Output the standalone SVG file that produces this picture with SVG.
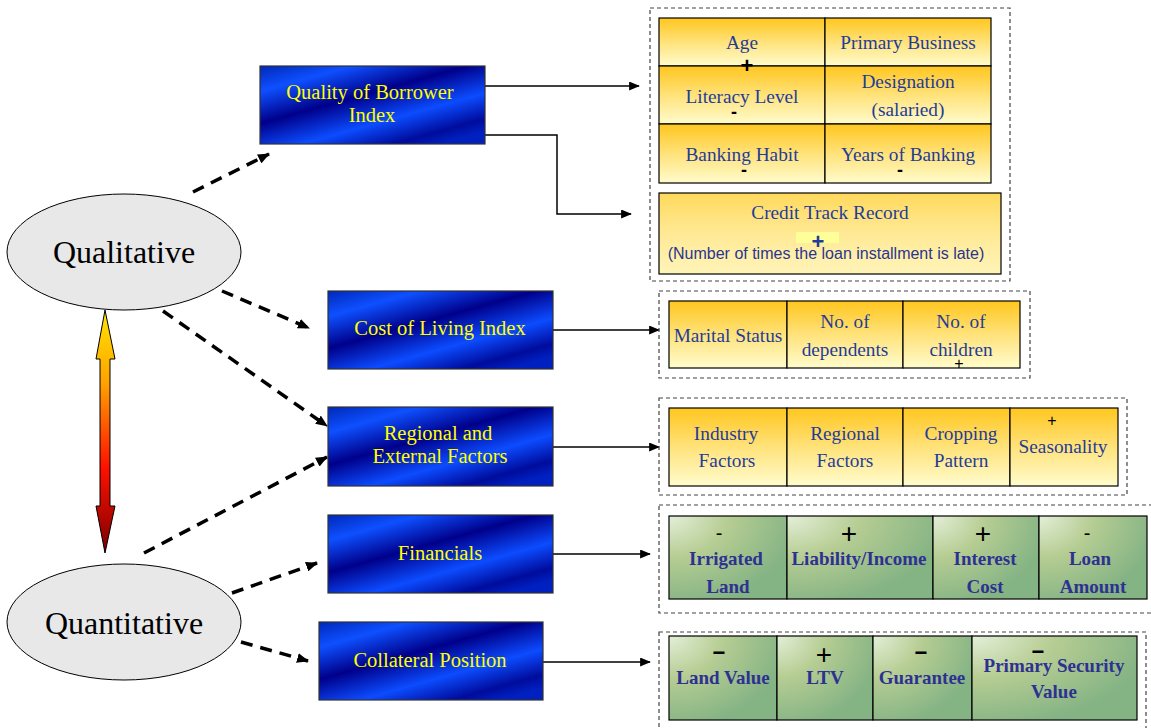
<svg xmlns="http://www.w3.org/2000/svg" width="1151" height="728" viewBox="0 0 1151 728">
<defs>
<linearGradient id="gBlue" x1="0" y1="0" x2="0.8" y2="1">
<stop offset="0" stop-color="#0028B8"/>
<stop offset="0.2" stop-color="#0E50FF"/>
<stop offset="0.45" stop-color="#00008A"/>
<stop offset="0.7" stop-color="#0C4CFF"/>
<stop offset="0.9" stop-color="#000C9C"/>
<stop offset="1" stop-color="#0020C0"/>
</linearGradient>
<linearGradient id="gYel" x1="0" y1="0" x2="0" y2="1">
<stop offset="0" stop-color="#FFC61E"/>
<stop offset="0.5" stop-color="#FFE27A"/>
<stop offset="1" stop-color="#FFFCCC"/>
</linearGradient>
<linearGradient id="gYel2" x1="0" y1="0" x2="0" y2="1">
<stop offset="0" stop-color="#FFD95C"/>
<stop offset="0.5" stop-color="#FFE995"/>
<stop offset="1" stop-color="#FFF4B8"/>
</linearGradient>
<radialGradient id="gGreen" cx="0" cy="0" r="1.1" fx="0" fy="0">
<stop offset="0" stop-color="#E4EFD9"/>
<stop offset="0.45" stop-color="#B6CD93"/>
<stop offset="1" stop-color="#84B384"/>
</radialGradient>
<linearGradient id="gArrow" x1="0" y1="0" x2="0" y2="1">
<stop offset="0" stop-color="#FFE600"/>
<stop offset="0.3" stop-color="#FFA200"/>
<stop offset="0.65" stop-color="#FF1000"/>
<stop offset="1" stop-color="#7A0000"/>
</linearGradient>
<marker id="mDash" viewBox="0 0 12 10" refX="11" refY="5" markerWidth="12" markerHeight="10" markerUnits="userSpaceOnUse" orient="auto">
<path d="M0,0 L12,5 L0,10 z" fill="#000"/>
</marker>
<marker id="mSolid" viewBox="0 0 12 10" refX="11" refY="5" markerWidth="11" markerHeight="9" markerUnits="userSpaceOnUse" orient="auto">
<path d="M0,0 L12,5 L0,10 z" fill="#000"/>
</marker>
<style>
.blue{fill:url(#gBlue);stroke:#333;stroke-width:1.2}
.btxt{font-family:"Liberation Serif",serif;font-size:20.5px;fill:#FFFF00;text-anchor:middle}
.ell{fill:#E8E8E8;stroke:#000;stroke-width:1}
.etxt{font-family:"Liberation Serif",serif;font-size:32px;fill:#000;text-anchor:middle}
.box{fill:none;stroke:#444;stroke-width:1.2;stroke-dasharray:4 3}
.yc{fill:url(#gYel);stroke:#000;stroke-width:1.2}
.yc2{fill:url(#gYel2);stroke:#000;stroke-width:1.2}
.gc{fill:url(#gGreen);stroke:#000;stroke-width:1.2}
.ct{font-family:"Liberation Serif",serif;font-size:19.3px;fill:#1F3C98;text-anchor:middle}
.gt{font-family:"Liberation Serif",serif;font-size:19px;font-weight:bold;fill:#2E3192;text-anchor:middle}
.sg{font-family:"Liberation Sans",sans-serif;fill:#000;text-anchor:middle}
.dash{fill:none;stroke:#000;stroke-width:3.5;stroke-dasharray:12 8;marker-end:url(#mDash)}
.sol{fill:none;stroke:#000;stroke-width:1.5;marker-end:url(#mSolid)}
</style>
</defs>

<g id="connectors">
<path class="dash" d="M193,192 L269,154"/>
<path class="dash" d="M222,291 L309,328"/>
<path class="dash" d="M163,311 L327,426"/>
<path class="dash" d="M144,553 L327,457"/>
<path class="dash" d="M232,593 L317,563"/>
<path class="dash" d="M241,642 L308,661"/>
<path class="sol" d="M485,86 L639,86"/>
<path class="sol" d="M485,135 L557,135 L557,214 L631,214"/>
<path class="sol" d="M553,330 L659,330"/>
<path class="sol" d="M553,447 L659,447"/>
<path class="sol" d="M553,554 L650,554"/>
<path class="sol" d="M543,662 L650,662"/>
<path d="M105,310 L115,359 L110,359 L110,506 L115,506 L105,553 L96,506 L100,506 L100,359 L96,359 Z" fill="url(#gArrow)" stroke="#000" stroke-width="1"/>
</g>

<g id="qualitative">
<ellipse class="ell" cx="124" cy="252" rx="117" ry="58"/>
<text class="etxt" x="124" y="263">Qualitative</text>
</g>
<g id="quantitative">
<ellipse class="ell" cx="124" cy="622" rx="117" ry="58"/>
<text class="etxt" x="124" y="634">Quantitative</text>
</g>

<g id="quality-of-borrower">
<rect class="blue" x="260" y="66" width="225" height="78"/>
<text class="btxt" x="370" y="99">Quality of Borrower</text>
<text class="btxt" x="372" y="122">Index</text>
</g>
<g id="cost-of-living">
<rect class="blue" x="328" y="291" width="225" height="78"/>
<text class="btxt" x="440" y="335">Cost of Living Index</text>
</g>
<g id="regional">
<rect class="blue" x="328" y="407" width="225" height="79"/>
<text class="btxt" x="438" y="440">Regional and</text>
<text class="btxt" x="440" y="463">External Factors</text>
</g>
<g id="financials">
<rect class="blue" x="328" y="515" width="225" height="78"/>
<text class="btxt" x="440" y="560">Financials</text>
</g>
<g id="collateral">
<rect class="blue" x="319" y="622" width="224" height="78"/>
<text class="btxt" x="430" y="667">Collateral Position</text>
</g>

<g id="borrower-factors">
<rect class="box" x="650" y="8" width="360" height="273"/>
<rect class="yc" x="659" y="18" width="166" height="48"/>
<rect class="yc" x="825" y="18" width="166" height="48"/>
<rect class="yc" x="659" y="66" width="166" height="58"/>
<rect class="yc" x="825" y="66" width="166" height="58"/>
<rect class="yc" x="659" y="124" width="166" height="59"/>
<rect class="yc" x="825" y="124" width="166" height="59"/>
<rect class="yc2" x="659" y="193" width="342" height="81"/>
<rect x="796" y="232" width="43" height="11" fill="#FFFF99"/>
<text class="ct" x="742" y="49">Age</text>
<text class="sg" x="747" y="73" font-size="22" font-weight="bold">+</text>
<text class="ct" x="908" y="49">Primary Business</text>
<text class="ct" x="742" y="103">Literacy Level</text>
<text class="sg" x="734" y="118" font-size="18" font-weight="bold">-</text>
<text class="ct" x="908" y="88">Designation</text>
<text class="ct" x="908" y="116">(salaried)</text>
<text class="ct" x="742" y="161">Banking Habit</text>
<text class="sg" x="744" y="176" font-size="18" font-weight="bold">-</text>
<text class="ct" x="908" y="161">Years of Banking</text>
<text class="sg" x="900" y="176" font-size="18" font-weight="bold">-</text>
<text class="ct" x="830" y="219">Credit Track Record</text>
<text class="sg" x="818" y="249" font-size="22" font-weight="bold" style="fill:#1F3C98">+</text>
<text x="826" y="259" font-family="Liberation Sans, sans-serif" font-size="16" fill="#2A3590" text-anchor="middle">(Number of times the loan installment is late)</text>
</g>

<g id="living-factors">
<rect class="box" x="659" y="291" width="371" height="87"/>
<rect class="yc" x="669" y="301" width="118" height="67"/>
<rect class="yc" x="787" y="301" width="116" height="67"/>
<rect class="yc" x="903" y="301" width="117" height="67"/>
<text class="ct" x="728" y="342">Marital Status</text>
<text class="ct" x="845" y="328">No. of</text>
<text class="ct" x="845" y="356">dependents</text>
<text class="ct" x="961" y="328">No. of</text>
<text class="ct" x="961" y="356">children</text>
<text class="sg" x="959" y="369" font-size="16">+</text>
</g>

<g id="regional-factors">
<rect class="box" x="659" y="398" width="468" height="97"/>
<rect class="yc" x="669" y="408" width="118" height="78"/>
<rect class="yc" x="787" y="408" width="116" height="78"/>
<rect class="yc" x="903" y="408" width="107" height="78"/>
<rect class="yc" x="1010" y="408" width="108" height="78"/>
<text class="ct" x="726" y="440">Industry</text>
<text class="ct" x="727" y="467">Factors</text>
<text class="ct" x="845" y="440">Regional</text>
<text class="ct" x="845" y="467">Factors</text>
<text class="ct" x="961" y="440">Cropping</text>
<text class="ct" x="961" y="467">Pattern</text>
<text class="sg" x="1052" y="426" font-size="16">+</text>
<text class="ct" x="1063" y="453">Seasonality</text>
</g>

<g id="financial-factors">
<rect class="box" x="659" y="505" width="500" height="108"/>
<rect class="gc" x="669" y="516" width="118" height="83"/>
<rect class="gc" x="787" y="516" width="146" height="83"/>
<rect class="gc" x="933" y="516" width="106" height="83"/>
<rect class="gc" x="1039" y="516" width="108" height="83"/>
<text class="sg" x="719" y="540" font-size="20">-</text>
<text class="gt" x="726" y="565">Irrigated</text>
<text class="gt" x="728" y="593">Land</text>
<text class="sg" x="849" y="543" font-size="28">+</text>
<text class="gt" x="859" y="565">Liability/Income</text>
<text class="sg" x="983" y="543" font-size="28">+</text>
<text class="gt" x="985" y="565">Interest</text>
<text class="gt" x="985" y="593">Cost</text>
<text class="sg" x="1087" y="540" font-size="20">-</text>
<text class="gt" x="1090" y="565">Loan</text>
<text class="gt" x="1093" y="593">Amount</text>
</g>

<g id="collateral-factors">
<rect class="box" x="659" y="632" width="487" height="110"/>
<rect class="gc" x="669" y="636" width="108" height="84"/>
<rect class="gc" x="777" y="636" width="96" height="84"/>
<rect class="gc" x="873" y="636" width="99" height="84"/>
<rect class="gc" x="972" y="636" width="165" height="84"/>
<text class="sg" x="719" y="660" font-size="22" font-weight="bold">−</text>
<text class="gt" x="723" y="684">Land Value</text>
<text class="sg" x="824" y="664" font-size="28">+</text>
<text class="gt" x="825" y="684">LTV</text>
<text class="sg" x="921" y="660" font-size="22" font-weight="bold">−</text>
<text class="gt" x="922" y="684">Guarantee</text>
<text class="sg" x="1038" y="659" font-size="22" font-weight="bold">−</text>
<text class="gt" x="1054" y="672">Primary Security</text>
<text class="gt" x="1054" y="698">Value</text>
</g>
</svg>
